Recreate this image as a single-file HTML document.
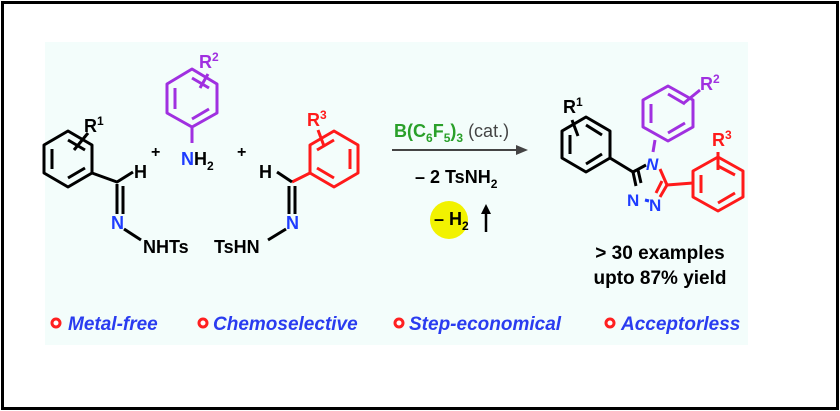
<!DOCTYPE html>
<html><head><meta charset="utf-8"><style>
html,body{margin:0;padding:0;background:#fff}
svg{display:block}
text{font-family:"Liberation Sans",Arial,sans-serif;font-weight:bold}
</style></head><body>
<svg width="840" height="411" viewBox="0 0 840 411" xmlns="http://www.w3.org/2000/svg">
<rect x="2.5" y="2.5" width="835" height="406" fill="#fff" stroke="#000" stroke-width="3"/>
<rect x="45" y="42" width="703" height="303" fill="#f3fdfb"/>
<g fill="none" stroke-width="3" stroke-linejoin="round">
<!-- left ring -->
<g stroke="#000">
<polygon points="68,131 92,145 92,173 68,187 44,173 44,145"/>
<path d="M52,149 L52,169 M68,178 L85,168 M85,150 L68,140"/>
<path d="M74,150 L88,133"/>
<path d="M92,173 L117,182 L133,172"/>
<path d="M117,184 L117,214 M123,186 L123,214"/>
<path d="M124,229 L141,240"/>
</g>
<!-- purple ring -->
<g stroke="#a030e0">
<polygon points="192,69 217,84 217,113 192,127 167,113 167,84"/>
<path d="M175,88 L175,109 M192,119 L209,109 M209,88 L192,78"/>
<path d="M192,127 L192,143 M200,88 L208,74"/>
</g>
<!-- red ring -->
<g stroke="#ff1a1a">
<polygon points="334,131 358,145 358,173 334,187 310,173 310,145"/>
<path d="M350,149 L350,169 M334,178 L317,168 M317,150 L334,140"/>
<path d="M324,146 L318,130"/>
<path d="M310,173 L292,182"/>
</g>
<g stroke="#000">
<path d="M292,182 L277,172"/>
<path d="M289,186 L289,214 M295,186 L295,214"/>
<path d="M286,229 L268,240"/>
</g>
<!-- product -->
<g stroke="#000">
<polygon points="586,117 610,131 610,158 586,172 562,158 562,131"/>
<path d="M570,135 L570,154 M586,164 L602,154 M602,135 L586,125"/>
<path d="M578,136 L572,120"/>
<path d="M610,158 L633,172"/>
<path d="M633,172 L646,165 M633,172 L636,186 M638,170 L641,183"/>
</g>
<g stroke="#a030e0">
<polygon points="668,86 693,100 693,127 668,141 643,127 643,100"/>
<path d="M651,104 L651,123 M668,133 L685,123 M685,104 L668,94"/>
<path d="M684,103 L700,90"/>
<path d="M655,140 L653,152"/>
</g>
<g stroke="#ff1a1a">
<path d="M660,169 L667,185 L693,183"/>
<path d="M667,185 L660,197 M662,181 L656,193"/>
<polygon points="718,157 743,171 743,197 718,211 693,197 693,171"/>
<path d="M701,175 L701,193 M718,203 L735,193 M735,175 L718,166"/>
<path d="M718,170 L718,152"/>
</g>
<path d="M645,200 L649,201" stroke="#1e3cff"/>
<!-- arrow -->
<path d="M392,150 L518,150" stroke="#444" stroke-width="2"/>
</g>
<polygon points="528,150 516,145 516,155" fill="#444"/>
<circle cx="449" cy="220" r="19" fill="#f2f200"/>
<path d="M486,232 L486,212" stroke="#000" stroke-width="2.5"/>
<polygon points="486,204 481,214 491,214" fill="#000"/>
<!-- labels -->
<g font-size="18">
<text x="84" y="132" fill="#000">R<tspan font-size="12" dy="-7">1</tspan></text>
<text x="134" y="178" fill="#000">H</text>
<text x="111" y="229" fill="#1e3cff">N</text>
<text x="143" y="253" fill="#000">NHTs</text>
<text x="151" y="157" fill="#000" font-size="16">+</text>
<text x="199" y="68" fill="#a030e0">R<tspan font-size="12" dy="-7">2</tspan></text>
<text x="181" y="165" fill="#1e3cff">N<tspan fill="#000">H<tspan font-size="12" dy="5">2</tspan></tspan></text>
<text x="237" y="157" fill="#000" font-size="16">+</text>
<text x="307" y="126" fill="#ff1a1a">R<tspan font-size="12" dy="-7">3</tspan></text>
<text x="259" y="178" fill="#000">H</text>
<text x="286" y="229" fill="#1e3cff">N</text>
<text x="214" y="253" fill="#000">TsHN</text>
<text x="394" y="137" fill="#2aa02a">B(C<tspan font-size="12" dy="5">6</tspan><tspan dy="-5">F</tspan><tspan font-size="12" dy="5">5</tspan><tspan dy="-5">)</tspan><tspan font-size="12" dy="5">3</tspan><tspan dy="-5" fill="#444" font-weight="normal"> (cat.)</tspan></text>
<text x="415" y="183" fill="#000">– 2 TsNH<tspan font-size="12" dy="5">2</tspan></text>
<text x="434" y="225" fill="#000">– H<tspan font-size="12" dy="5">2</tspan></text>
<text x="563" y="113" fill="#000">R<tspan font-size="12" dy="-7">1</tspan></text>
<text x="700" y="90" fill="#a030e0">R<tspan font-size="12" dy="-7">2</tspan></text>
<text x="712" y="146" fill="#ff1a1a">R<tspan font-size="12" dy="-7">3</tspan></text>
<text x="646" y="170" fill="#1e3cff" font-style="italic" font-size="17">N</text>
<text x="627" y="206" fill="#1e3cff" font-size="17">N</text>
<text x="649" y="211" fill="#1e3cff" font-size="17">N</text>
<text x="660" y="259" fill="#000" text-anchor="middle" font-size="19">&gt; 30 examples</text>
<text x="660" y="284" fill="#000" text-anchor="middle" font-size="19">upto 87% yield</text>
</g>
<g font-size="19" font-style="italic" fill="#2a3cf0">
<text x="68" y="330">Metal-free</text>
<text x="213" y="330">Chemoselective</text>
<text x="409" y="330">Step-economical</text>
<text x="621" y="330">Acceptorless</text>
</g>
<g fill="#fff" stroke="#ff2020" stroke-width="3">
<circle cx="56" cy="323" r="4"/>
<circle cx="203" cy="323" r="4"/>
<circle cx="399" cy="323" r="4"/>
<circle cx="610" cy="323" r="4"/>
</g>
</svg>
</body></html>
